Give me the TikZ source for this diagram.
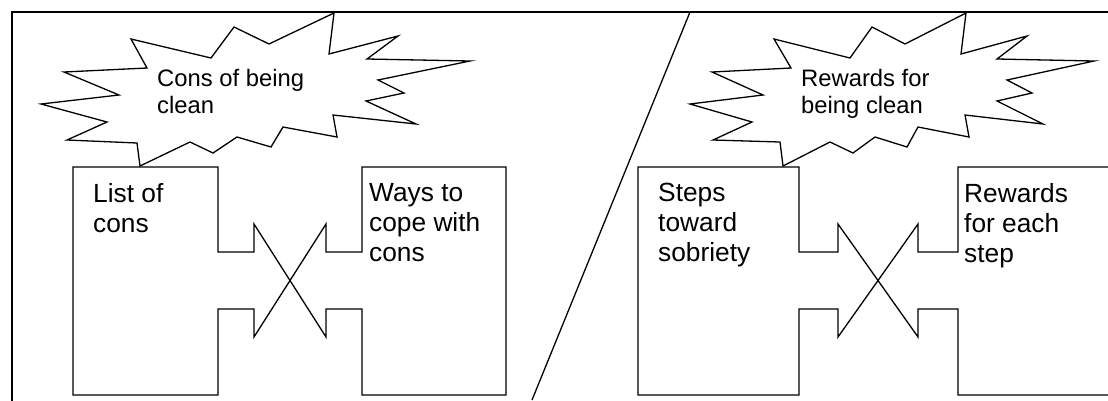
\documentclass[tikz,border=0pt]{standalone}
\usepackage{fontspec}
\setmainfont{Liberation Sans}
\tikzset{
 frameline/.style={line width=2pt},
 outline/.style={line width=1.3pt, line join=miter},
 bubble/.style={line width=1.3pt, fill=white, line join=miter},
 boxtext/.style={anchor=north west, inner sep=0pt, align=left, font=\fontsize{26.3}{30}\selectfont},
 bubtext/.style={anchor=north west, inner sep=0pt, align=left, font=\fontsize{23.8}{27}\selectfont},
}
\begin{document}
\begin{tikzpicture}[x=1pt,y=-1pt]
\useasboundingbox (0,0) rectangle (1108,400);
\clip (0,0) rectangle (1108,400);
\draw[frameline] (12,12) rectangle (1130,420);
\coordinate (dtop) at (690,12);
\coordinate (dbot) at (532,400);
\draw[outline] (dtop) -- (dbot);
% left exchange shape
\draw[outline] (73,167) -- (218,167) -- (218,252) -- (254,252) -- (254,224) -- (326,337) -- (326,309) -- (362,309) -- (362,395) -- (506,395) -- (506,167) -- (362,167) -- (362,252) -- (326,252) -- (326,224) -- (254,337) -- (254,309) -- (218,309) -- (218,395) -- (73,395) -- cycle;
% right exchange shape
\draw[outline] (638,167) -- (799,167) -- (799,252) -- (838,252) -- (838,224) -- (918,337) -- (918,309) -- (958,309) -- (958,395) -- (1120,395) -- (1120,167) -- (958,167) -- (958,252) -- (918,252) -- (918,224) -- (838,337) -- (838,309) -- (799,309) -- (799,395) -- (638,395) -- cycle;
% bubbles
\draw[bubble] (140,166) -- (137,143) -- (67,140) -- (107,122) -- (41,104) -- (119,95) -- (64,72) -- (147,68) -- (131,39) -- (211,58) -- (234,27) -- (269,44) -- (334,13) -- (329,54) -- (398,36) -- (367,59) -- (470,61) -- (378,80) -- (404,93) -- (366,101) -- (416,124) -- (333,115) -- (337,137) -- (283,127) -- (271,147) -- (237,137) -- (213,153) -- (190,142) -- cycle;
\draw[bubble] (783,166) -- (780,142) -- (713,140) -- (752,122) -- (690,104) -- (763,95) -- (712,72) -- (791,68) -- (774,39) -- (850,58) -- (872,27) -- (905,44) -- (966,13) -- (961,54) -- (1027,36) -- (997,59) -- (1094,61) -- (1007,80) -- (1032,93) -- (997,101) -- (1043,124) -- (965,115) -- (969,137) -- (918,127) -- (907,147) -- (875,137) -- (853,153) -- (830,142) -- cycle;
% texts
\node[bubtext] (cons) at (157,68.6) {Cons of being\\clean};
\node[bubtext] (rew) at (801,68.6) {Rewards for\\being clean};
\node[boxtext] (list) at (93,183) {List of\\cons};
\node[boxtext] (ways) at (369,183) {Ways to\\cope with\\cons};
\node[boxtext] (steps) at (658,183) {Steps\\toward\\sobriety};
\node[boxtext] (rfe) at (964,183) {Rewards\\for each\\step};
\end{tikzpicture}
\end{document}
